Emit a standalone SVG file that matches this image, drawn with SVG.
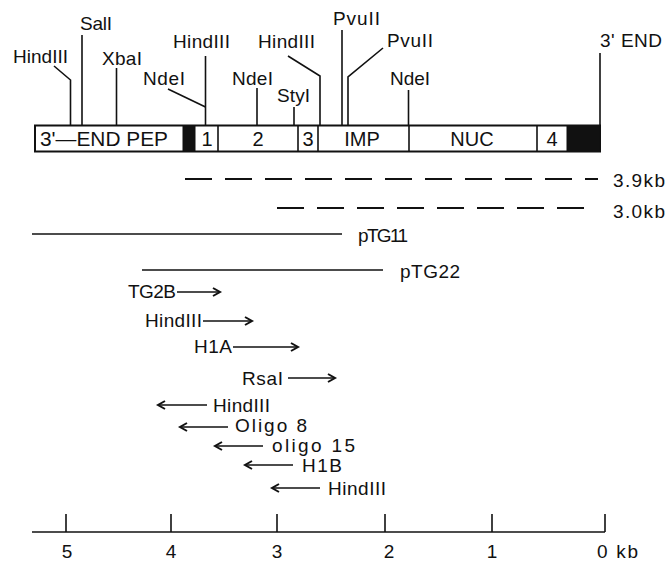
<svg xmlns="http://www.w3.org/2000/svg" width="668" height="561" viewBox="0 0 668 561">
<style>
  text { font-family: "Liberation Sans", Arial, sans-serif; font-size: 19px; fill: #111; }
  .box text { font-size: 20px; }
  .ln { stroke: #111; stroke-width: 1.6; fill: none; }
  .bx { stroke: #111; stroke-width: 2; fill: #fff; }
  .blk { fill: #111; stroke: #111; stroke-width: 1; }
  .dash { stroke: #111; stroke-width: 2; stroke-dasharray: 27 13; }
  .clone { stroke: #111; stroke-width: 1.6; }
  .arr { stroke: #111; stroke-width: 1.6; marker-end: url(#ah); }
</style>
<defs>
  <marker id="ah" markerUnits="userSpaceOnUse" markerWidth="12" markerHeight="12" refX="8" refY="5" orient="auto">
    <path d="M1,1 L8,5 L1,9" fill="none" stroke="#111" stroke-width="2"/>
  </marker>
</defs>
<rect width="668" height="561" fill="#fff"/>

<g id="map-box" class="box">
  <rect class="bx" x="35" y="125.5" width="565" height="26"/>
  <rect class="blk" x="183" y="125.5" width="12" height="26"/>
  <rect class="blk" x="567" y="125.5" width="33" height="26"/>
  <line class="ln" x1="218" y1="125.5" x2="218" y2="151.5"/>
  <line class="ln" x1="298" y1="125.5" x2="298" y2="151.5"/>
  <line class="ln" x1="318" y1="125.5" x2="318" y2="151.5"/>
  <line class="ln" x1="409" y1="125.5" x2="409" y2="151.5"/>
  <line class="ln" x1="537" y1="125.5" x2="537" y2="151.5"/>
  <text x="40" y="146" textLength="128" lengthAdjust="spacingAndGlyphs">3'—END PEP</text>
  <text x="207" y="146" text-anchor="middle">1</text>
  <text x="258" y="146" text-anchor="middle">2</text>
  <text x="308" y="146" text-anchor="middle">3</text>
  <text x="362" y="146" text-anchor="middle">IMP</text>
  <text x="472" y="146" text-anchor="middle">NUC</text>
  <text x="552" y="146" text-anchor="middle">4</text>
</g>

<g id="site-hindiii-1">
  <polyline class="ln" points="54,66 70.5,80 70.5,125"/>
  <text x="13" y="63" textLength="55">HindIII</text>
</g>
<g id="site-sali">
  <line class="ln" x1="82" y1="35" x2="82" y2="125"/>
  <text x="80" y="30" textLength="32">SalI</text>
</g>
<g id="site-xbai">
  <line class="ln" x1="116.5" y1="68" x2="116.5" y2="125"/>
  <text x="102" y="65" textLength="40">XbaI</text>
</g>
<g id="site-ndei-1">
  <line class="ln" x1="168" y1="89" x2="205.5" y2="107"/>
  <text x="143" y="85" textLength="42">NdeI</text>
</g>
<g id="site-hindiii-2">
  <line class="ln" x1="205.5" y1="56" x2="205.5" y2="125"/>
  <text x="173" y="48" textLength="57">HindIII</text>
</g>
<g id="site-ndei-2">
  <line class="ln" x1="257" y1="88" x2="257" y2="125"/>
  <text x="232" y="85" textLength="41">NdeI</text>
</g>
<g id="site-styi">
  <line class="ln" x1="294" y1="107" x2="294" y2="125"/>
  <text x="277" y="102" textLength="33">StyI</text>
</g>
<g id="site-hindiii-3">
  <polyline class="ln" points="288,56 320,76 320,125"/>
  <text x="258" y="48" textLength="57">HindIII</text>
</g>
<g id="site-pvuii-1">
  <line class="ln" x1="342" y1="30" x2="342" y2="125"/>
  <text x="333" y="25" textLength="47">PvuII</text>
</g>
<g id="site-pvuii-2">
  <polyline class="ln" points="383,48 348,77 348,125"/>
  <text x="387" y="47" textLength="46">PvuII</text>
</g>
<g id="site-ndei-3">
  <line class="ln" x1="408.5" y1="90" x2="408.5" y2="125"/>
  <text x="390" y="85" textLength="40">NdeI</text>
</g>
<g id="site-3end">
  <line class="ln" x1="600" y1="53" x2="600" y2="125"/>
  <text x="600" y="47" textLength="62">3' END</text>
</g>

<g id="transcript-3.9kb">
  <line class="dash" x1="185" y1="179" x2="598" y2="179"/>
  <text x="613" y="187" textLength="52">3.9kb</text>
</g>
<g id="transcript-3.0kb">
  <line class="dash" x1="277" y1="208" x2="587" y2="208"/>
  <text x="613" y="218" textLength="52">3.0kb</text>
</g>
<g id="clone-ptg11">
  <line class="clone" x1="32" y1="234" x2="342" y2="234"/>
  <text x="358" y="242" textLength="50">pTG11</text>
</g>
<g id="clone-ptg22">
  <line class="clone" x1="142" y1="270" x2="383" y2="270"/>
  <text x="400" y="278" textLength="60">pTG22</text>
</g>

<g id="primer-tg2b"><text x="128" y="298" textLength="48">TG2B</text></g>
<g id="primer-hindiii-f"><text x="145" y="327" textLength="57">HindIII</text></g>
<g id="primer-h1a"><text x="194" y="353" textLength="38">H1A</text></g>
<g id="primer-rsai"><text x="242" y="385" textLength="41">RsaI</text></g>
<g id="primer-hindiii-r1"><text x="213" y="412" textLength="57">HindIII</text></g>
<g id="primer-oligo8"><text x="235" y="432" textLength="72">Oligo 8</text></g>
<g id="primer-oligo15"><text x="272" y="452" textLength="83">oligo 15</text></g>
<g id="primer-h1b"><text x="302" y="472" textLength="40">H1B</text></g>
<g id="primer-hindiii-r2"><text x="328" y="495" textLength="58">HindIII</text></g>

<g id="connectors">
  <line class="arr" x1="177" y1="292" x2="220" y2="292"/>
  <line class="arr" x1="203" y1="321" x2="252" y2="321"/>
  <line class="arr" x1="233" y1="347" x2="298" y2="347"/>
  <line class="arr" x1="288" y1="378" x2="335" y2="378"/>
  <line class="arr" x1="207" y1="405" x2="158" y2="405"/>
  <line class="arr" x1="228" y1="427" x2="180" y2="427"/>
  <line class="arr" x1="263" y1="446" x2="215" y2="446"/>
  <line class="arr" x1="293" y1="465" x2="245" y2="465"/>
  <line class="arr" x1="320" y1="488" x2="272" y2="488"/>
</g>

<g id="scale">
  <line class="ln" x1="32" y1="532" x2="605" y2="532" stroke-width="2"/>
  <line class="ln" x1="66" y1="514" x2="66" y2="532"/>
  <line class="ln" x1="171" y1="514" x2="171" y2="532"/>
  <line class="ln" x1="277" y1="514" x2="277" y2="532"/>
  <line class="ln" x1="385" y1="514" x2="385" y2="532"/>
  <line class="ln" x1="492" y1="514" x2="492" y2="532"/>
  <line class="ln" x1="605" y1="514" x2="605" y2="532"/>
  <text x="67" y="558" text-anchor="middle">5</text>
  <text x="171" y="558" text-anchor="middle">4</text>
  <text x="277" y="558" text-anchor="middle">3</text>
  <text x="389" y="558" text-anchor="middle">2</text>
  <text x="492" y="558" text-anchor="middle">1</text>
  <text x="597" y="558" textLength="41">0 kb</text>
</g>
</svg>
